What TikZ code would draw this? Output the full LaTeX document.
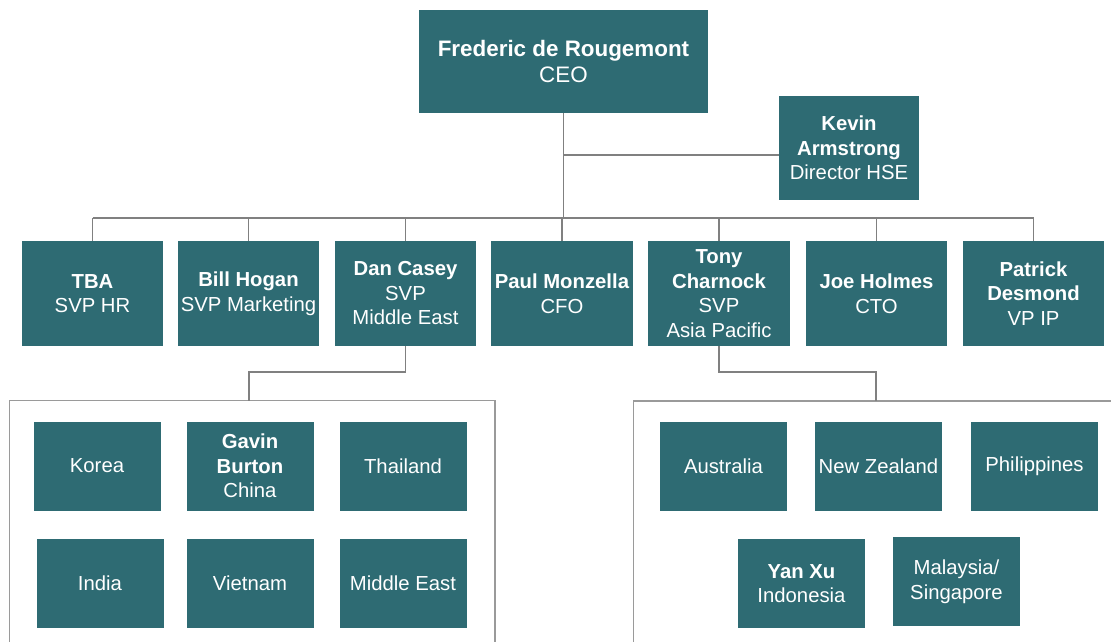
\documentclass[tikz,border=0pt]{standalone}
\usepackage{fontspec}
\setmainfont{Liberation Sans}
\definecolor{teal1}{HTML}{2E6B73}
\definecolor{lineg}{HTML}{808080}
\definecolor{frameg}{HTML}{9A9A9A}
\begin{document}
\begin{tikzpicture}[x=1pt,y=-1pt,
  orgbox/.style={draw=none,fill=teal1,text=white,align=center,inner sep=0pt,
    font=\fontsize{20.3}{24.5}\selectfont},
  conn/.style={draw=lineg,line width=1.7pt},
  frame/.style={draw=frameg,line width=1.1pt}]
\useasboundingbox (0,0) rectangle (1111,642);
% top
\node[orgbox,minimum width=289pt,minimum height=103pt,font=\fontsize{22.4}{26}\selectfont] (ceo) at (563.5,61.5) {\textbf{Frederic de Rougemont}\\CEO};
\node[orgbox,minimum width=140pt,minimum height=104pt] (kevin) at (849,148) {\textbf{Kevin}\\\textbf{Armstrong}\\Director HSE};
% second row
\node[orgbox,minimum width=141pt,minimum height=105pt] (tba) at (92.5,293.5) {\textbf{TBA}\\SVP HR};
\node[orgbox,minimum width=141pt,minimum height=105pt] (bill) at (248.5,293.5) {\textbf{Bill Hogan}\\SVP Marketing};
\node[orgbox,minimum width=141pt,minimum height=105pt] (dan) at (405.5,293.5) {\textbf{Dan Casey}\\SVP\\Middle East};
\node[orgbox,minimum width=142pt,minimum height=105pt] (paul) at (562,293.5) {\textbf{Paul Monzella}\\CFO};
\node[orgbox,minimum width=142pt,minimum height=105pt] (tony) at (719,293.5) {\textbf{Tony}\\\textbf{Charnock}\\SVP\\Asia Pacific};
\node[orgbox,minimum width=141pt,minimum height=105pt] (joe) at (876.5,293.5) {\textbf{Joe Holmes}\\CTO};
\node[orgbox,minimum width=141pt,minimum height=105pt] (patrick) at (1033.5,293.5) {\textbf{Patrick}\\\textbf{Desmond}\\VP IP};
% containers
\draw[frame] (9.5,660) -- (9.5,400.5) -- (495,400.5) -- (495,660);
\draw[frame] (633.5,660) -- (633.5,401) -- (1120,401);
\coordinate (lc) at (249,400.5);
\coordinate (rc) at (876,401);
% left group
\node[orgbox,minimum width=127pt,minimum height=89pt] (korea) at (97,466) {Korea};
\node[orgbox,minimum width=127pt,minimum height=89pt] (gavin) at (250,466) {\textbf{Gavin}\\\textbf{Burton}\\China};
\node[orgbox,minimum width=127pt,minimum height=89pt] (thailand) at (403,466) {Thailand};
\node[orgbox,minimum width=127pt,minimum height=89pt] (india) at (100,583.5) {India};
\node[orgbox,minimum width=127pt,minimum height=89pt] (vietnam) at (250,583.5) {Vietnam};
\node[orgbox,minimum width=127pt,minimum height=89pt] (mideast) at (403,583.5) {Middle East};
% right group
\node[orgbox,minimum width=127pt,minimum height=89pt] (australia) at (723.5,466.5) {Australia};
\node[orgbox,minimum width=127pt,minimum height=89pt] (nz) at (878.5,466.5) {New Zealand};
\node[orgbox,minimum width=127pt,minimum height=89pt] (phil) at (1034.5,466.5) {Philippines};
\node[orgbox,minimum width=127pt,minimum height=89pt] (yan) at (801.5,583.5) {\textbf{Yan Xu}\\Indonesia};
\node[orgbox,minimum width=127pt,minimum height=89pt] (malay) at (956.5,581.5) {Malaysia/\\Singapore};
% connectors
\coordinate (bus) at (0,218);
\coordinate (hse) at (0,155);
\draw[conn] (ceo.south) -- (ceo.south |- bus);
\draw[conn] (ceo.south |- hse) -- (kevin.west |- hse);
\draw[conn] (tba.north |- bus) -- (patrick.north |- bus);
\foreach \n in {tba,bill,dan,paul,tony,joe,patrick}
  \draw[conn] (\n.north |- bus) -- (\n.north);
\draw[conn] (dan.south) -- (dan.south |- 0,372) -| (lc);
\draw[conn] (tony.south) -- (tony.south |- 0,372) -| (rc);
\end{tikzpicture}
\end{document}
